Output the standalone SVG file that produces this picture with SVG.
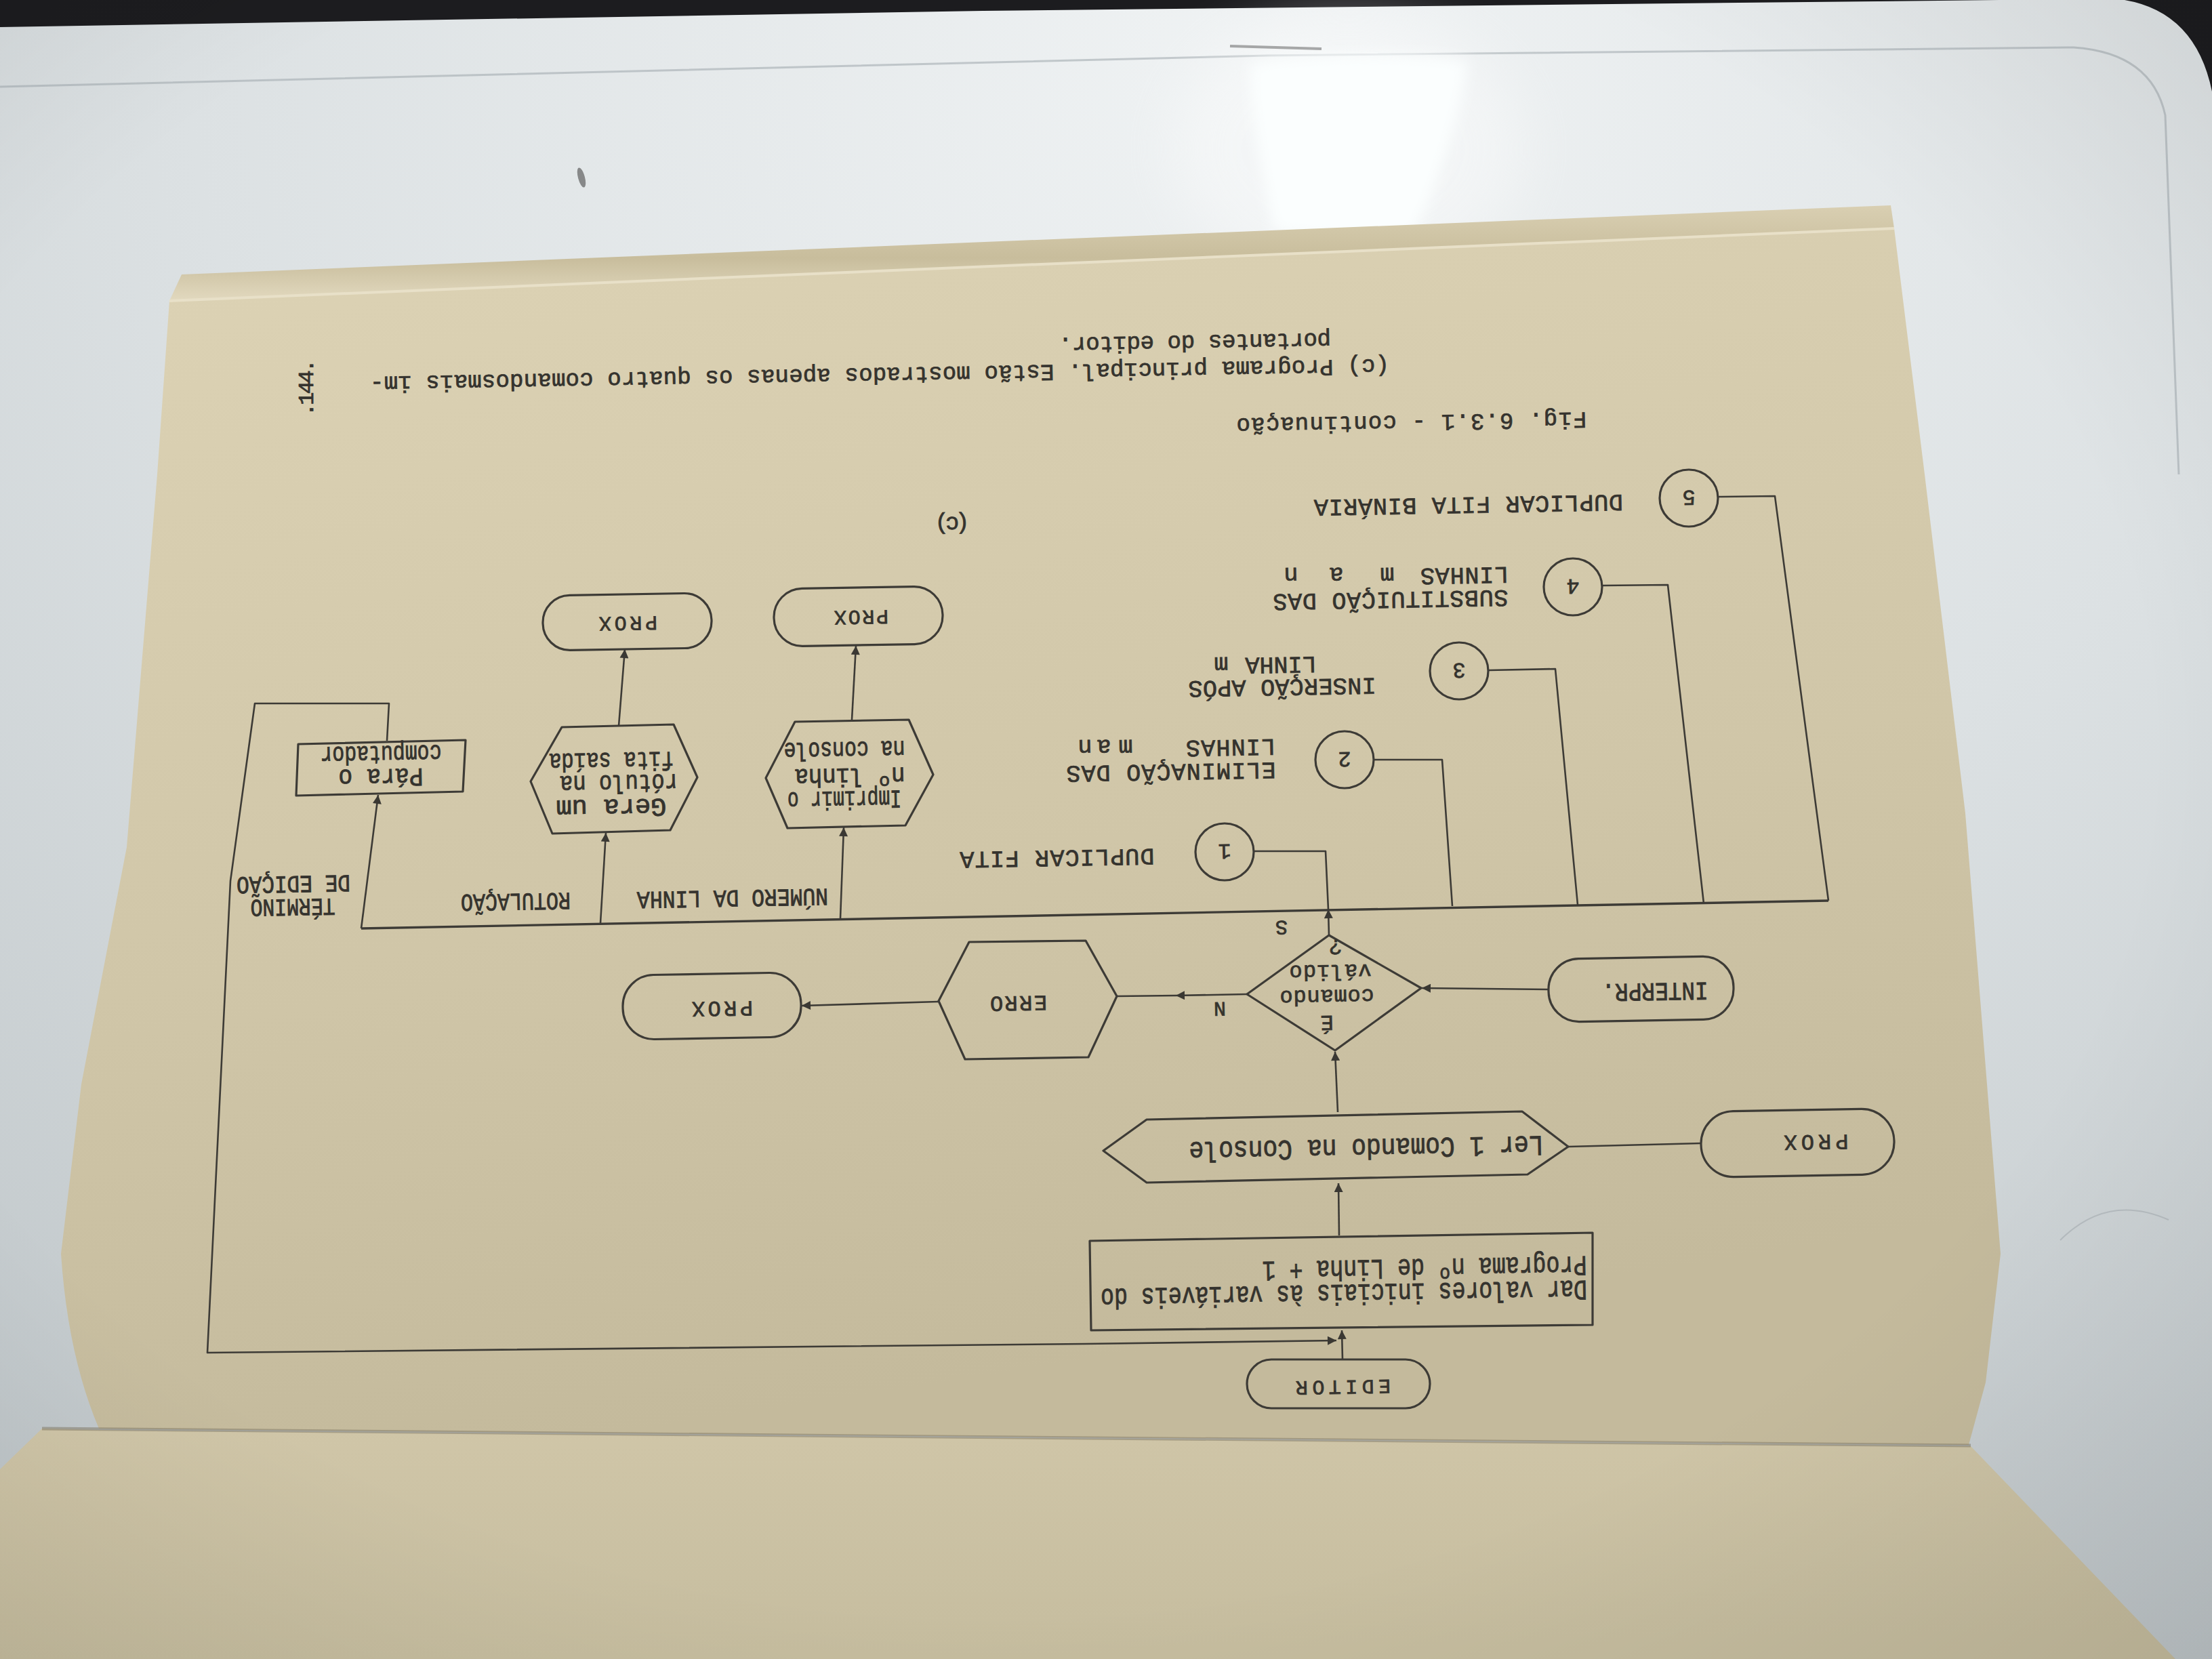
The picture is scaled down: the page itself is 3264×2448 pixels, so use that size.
<svg xmlns="http://www.w3.org/2000/svg" width="3264" height="2448" viewBox="0 0 3264 2448">
<defs>
  <radialGradient id="surf" cx="0.58" cy="0.04" r="1.1">
    <stop offset="0" stop-color="#f0f3f4"/>
    <stop offset="0.45" stop-color="#dce1e3"/>
    <stop offset="1" stop-color="#bcc3c6"/>
  </radialGradient>
  <linearGradient id="pageGrad" x1="0" y1="0" x2="0.25" y2="1">
    <stop offset="0" stop-color="#ddd3b5"/>
    <stop offset="0.6" stop-color="#d0c6a8"/>
    <stop offset="1" stop-color="#c4ba9c"/>
  </linearGradient>
  <linearGradient id="lowerGrad" x1="0" y1="0" x2="0.15" y2="1">
    <stop offset="0" stop-color="#d0c6a8"/>
    <stop offset="1" stop-color="#c6bd9f"/>
  </linearGradient>
  <linearGradient id="stackGrad" x1="0" y1="0" x2="0" y2="1">
    <stop offset="0" stop-color="#d9cfb2"/>
    <stop offset="0.55" stop-color="#c8bd9c"/>
    <stop offset="1" stop-color="#e2d9bf"/>
  </linearGradient>
  <radialGradient id="vig" cx="0.45" cy="0.45" r="0.8">
    <stop offset="0.65" stop-color="#000" stop-opacity="0"/>
    <stop offset="1" stop-color="#000" stop-opacity="0.1"/>
  </radialGradient>
  <filter id="glare" x="-50%" y="-50%" width="200%" height="200%">
    <feGaussianBlur stdDeviation="10"/>
  </filter>
  <filter id="glow" x="-50%" y="-50%" width="200%" height="200%">
    <feGaussianBlur stdDeviation="40"/>
  </filter>
  <marker id="arr" viewBox="0 0 10 10" refX="10" refY="5" markerWidth="17" markerHeight="13" markerUnits="userSpaceOnUse" orient="auto">
    <path d="M0,0 L10,5 L0,10 z" fill="#3a3833"/>
  </marker>
</defs>
<style>
  .ln{fill:none;stroke:#3d3b36;stroke-width:2.6;stroke-linejoin:round}
  .sh{fill:none;stroke:#3d3b36;stroke-width:3.2;stroke-linejoin:round}
  .t{font-family:"Liberation Mono","Courier New",monospace;fill:#35332e;stroke:#35332e;stroke-width:0.8;text-anchor:middle}
  .c{font-family:"Liberation Mono","Courier New",monospace;fill:#35332e;stroke:#35332e;stroke-width:0.9;text-anchor:middle}
</style>

<!-- table surface and surroundings -->
<g id="scene">
  <rect x="0" y="0" width="3264" height="2448" fill="url(#surf)"/>
  <path d="M0,0 H3264 V135 Q3240,18 3135,0 Z" fill="#1c1c1f"/>
  <path d="M0,0 L0,40 L1450,16 L2950,0 Z" fill="#1c1c1f"/>
  <path d="M0,128 L1870,82 L3060,70 Q3175,78 3195,170 L3215,700" fill="none" stroke="#a4acb0" stroke-width="3" opacity="0.6"/>
  <ellipse cx="1990" cy="220" rx="260" ry="200" fill="#ffffff" opacity="0.35" filter="url(#glow)"/>
  <path d="M1845,95 C1900,80 2110,75 2165,92 C2150,200 2110,300 2085,345 C2020,352 1930,350 1880,340 C1860,250 1845,160 1845,95 Z" fill="#fbfefe" filter="url(#glare)"/>
  <ellipse cx="858" cy="262" rx="5" ry="15" fill="#4a4a4a" opacity="0.6" transform="rotate(-15 858 262)"/>
  <path d="M1815,68 L1950,72" stroke="#5a5a5a" stroke-width="4" opacity="0.5"/>
  <path d="M3040,1830 Q3110,1760 3200,1800" fill="none" stroke="#939b9f" stroke-width="2" opacity="0.4"/>
</g>

<!-- book pages -->
<g id="book">
  <path d="M0,2168 L62,2108 L146,2110 L1500,2122 L2908,2134 L3210,2448 L0,2448 Z" fill="url(#lowerGrad)"/>
  <path d="M250,444 L2795,337 L2840,700 L2900,1200 L2952,1850 L2930,2040 L2905,2132 L1500,2120 L146,2108 Q100,2000 90,1850 L120,1600 L187,1250 L232,700 Z" fill="url(#pageGrad)"/>
  <path d="M268,405 L2790,303 L2795,337 L250,444 Z" fill="url(#stackGrad)"/>
  <path d="M250,444 L2795,337" stroke="#e8e0c8" stroke-width="4" fill="none"/>
  <path d="M62,2108 L1500,2121 L2908,2133" stroke="#7d7562" stroke-width="5" fill="none" opacity="0.5"/>
</g>

<!-- connectors -->
<g id="connectors">
  <line class="ln" x1="1981" y1="2006" x2="1980" y2="1963" marker-end="url(#arr)"/>
  <polyline class="ln" points="571,1093 574,1038 376,1038 340,1300 306,1996 1600,1983 1972,1978" marker-end="url(#arr)"/>
  <line class="ln" x1="1976" y1="1823" x2="1975" y2="1746" marker-end="url(#arr)"/>
  <line class="ln" x1="2510" y1="1687" x2="2314" y2="1692"/>
  <line class="ln" x1="1974" y1="1641" x2="1970" y2="1552" marker-end="url(#arr)"/>
  <line class="ln" x1="2285" y1="1460" x2="2098" y2="1458" marker-end="url(#arr)"/>
  <polyline class="ln" points="1840,1467 1735,1469 1648,1470" marker-mid="url(#arr)"/>
  <line class="ln" x1="1385" y1="1478" x2="1183" y2="1484" marker-end="url(#arr)"/>
  <line class="ln" x1="1961" y1="1380" x2="1960" y2="1342" marker-end="url(#arr)"/>
  <line class="ln" x1="533" y1="1370" x2="2698" y2="1329" style="stroke-width:3.4"/>
  <polyline class="ln" points="1851,1256 1956,1256 1960,1342"/>
  <polyline class="ln" points="2028,1121 2128,1121 2143,1337"/>
  <polyline class="ln" points="2197,989 2295,987 2328,1335"/>
  <polyline class="ln" points="2365,864 2461,863 2514,1333"/>
  <polyline class="ln" points="2536,733 2619,732 2698,1329"/>
  <line class="ln" x1="1240" y1="1355" x2="1245" y2="1221" marker-end="url(#arr)"/>
  <line class="ln" x1="1257" y1="1062" x2="1263" y2="953" marker-end="url(#arr)"/>
  <line class="ln" x1="886" y1="1362" x2="894" y2="1229" marker-end="url(#arr)"/>
  <line class="ln" x1="913" y1="1071" x2="922" y2="958" marker-end="url(#arr)"/>
  <line class="ln" x1="533" y1="1370" x2="558" y2="1173" marker-end="url(#arr)"/>
</g>

<!-- flowchart nodes (printed upside down on the page) -->
<g id="editor">
  <rect class="sh" x="1840" y="2006" width="270" height="72" rx="36"/>
  <text class="t" x="1982" y="2059" font-size="30" textLength="140" transform="rotate(179 1982 2048)">EDITOR</text>
</g>
<g id="init-box">
  <polygon class="sh" points="1608,1831 2350,1819 2350,1955 1610,1963"/>
  <text class="c" x="1983" y="1924" font-size="42" textLength="718" lengthAdjust="spacingAndGlyphs" transform="rotate(179 1983 1910)">Dar valores iniciais às variáveis do</text>
  <text class="c" x="2102" y="1886" font-size="42" textLength="479" lengthAdjust="spacingAndGlyphs" transform="rotate(179 2102 1872)">Programa nº de Linha + 1</text>
</g>
<g id="read-cmd">
  <polygon class="sh" points="1628,1698 1692,1652 2246,1640 2314,1692 2254,1733 1692,1745"/>
  <text class="c" x="2016" y="1709" font-size="42" textLength="523" lengthAdjust="spacingAndGlyphs" transform="rotate(179 2016 1695)">Ler 1 Comando  na  Console</text>
</g>
<g id="prox-read">
  <rect class="sh" x="2510" y="1638" width="285" height="97" rx="48" transform="rotate(-1 2652 1686)"/>
  <text class="t" x="2680" y="1699" font-size="32" textLength="95" transform="rotate(179 2680 1687)">PROX</text>
</g>
<g id="valid-cmd">
  <polygon class="sh" points="1961,1380 2097,1458 1970,1550 1840,1467"/>
  <text class="t" x="1958" y="1521" font-size="32" transform="rotate(179 1958 1510)">É</text>
  <text class="t" x="1958" y="1479" font-size="32" textLength="139" transform="rotate(179 1958 1470)">comando</text>
  <text class="t" x="1963" y="1442" font-size="32" textLength="121" transform="rotate(179 1963 1433)">válido</text>
  <text class="t" x="1970" y="1409" font-size="32" transform="rotate(179 1970 1398)">?</text>
  <text class="t" x="1800" y="1501" font-size="30" transform="rotate(179 1800 1490)">N</text>
  <text class="t" x="1891" y="1381" font-size="30" transform="rotate(179 1891 1370)">S</text>
</g>
<g id="interpr">
  <rect class="sh" x="2285" y="1413" width="273" height="93" rx="45" transform="rotate(-1 2421 1460)"/>
  <text class="c" x="2442" y="1477" font-size="38" textLength="157" lengthAdjust="spacingAndGlyphs" transform="rotate(179 2442 1464)">INTERPR.</text>
</g>
<g id="erro">
  <polygon class="sh" points="1385,1477 1430,1390 1602,1388 1648,1470 1606,1560 1424,1563"/>
  <text class="t" x="1503" y="1494" font-size="32" textLength="84" transform="rotate(179 1503 1482)">ERRO</text>
</g>
<g id="prox-erro">
  <rect class="sh" x="919" y="1437" width="263" height="95" rx="46" transform="rotate(-1 1050 1484)"/>
  <text class="t" x="1066" y="1502" font-size="32" textLength="90" transform="rotate(179 1066 1490)">PROX</text>
</g>
<g id="cmd1">
  <ellipse class="sh" cx="1807" cy="1257" rx="43" ry="42"/>
  <text class="t" x="1807" y="1268" font-size="32" transform="rotate(179 1807 1257)">1</text>
  <text class="t" x="1560" y="1281" font-size="35" textLength="287" transform="rotate(179 1560 1268)">DUPLICAR FITA</text>
</g>
<g id="cmd2">
  <ellipse class="sh" cx="1984" cy="1121" rx="43" ry="42"/>
  <text class="t" x="1984" y="1132" font-size="32" transform="rotate(179 1984 1121)">2</text>
  <text class="t" x="1728" y="1154" font-size="35" textLength="309" transform="rotate(179 1728 1141)">ELIMINAÇÃO DAS</text>
  <text class="t" x="1816" y="1118" font-size="35" textLength="132" transform="rotate(179 1816 1105)">LINHAS</text>
  <text class="t" x="1661" y="1118" font-size="35" transform="rotate(179 1661 1105)">m</text>
  <text class="t" x="1629" y="1118" font-size="35" transform="rotate(179 1629 1105)">a</text>
  <text class="t" x="1601" y="1118" font-size="35" transform="rotate(179 1601 1105)">n</text>
</g>
<g id="cmd3">
  <ellipse class="sh" cx="2153" cy="990" rx="43" ry="42"/>
  <text class="t" x="2153" y="1001" font-size="32" transform="rotate(179 2153 990)">3</text>
  <text class="t" x="1892" y="1029" font-size="35" textLength="277" transform="rotate(179 1892 1016)">INSERÇÃO APÓS</text>
  <text class="t" x="1890" y="996" font-size="35" textLength="105" transform="rotate(179 1890 983)">LINHA</text>
  <text class="t" x="1802" y="996" font-size="35" transform="rotate(179 1802 983)">m</text>
</g>
<g id="cmd4">
  <ellipse class="sh" cx="2321" cy="866" rx="43" ry="42"/>
  <text class="t" x="2321" y="877" font-size="32" transform="rotate(179 2321 866)">4</text>
  <text class="t" x="2052" y="900" font-size="35" textLength="347" transform="rotate(179 2052 887)">SUBSTITUIÇÃO DAS</text>
  <text class="t" x="2161" y="864" font-size="35" textLength="130" transform="rotate(179 2161 851)">LINHAS</text>
  <text class="t" x="2047" y="864" font-size="35" transform="rotate(179 2047 851)">m</text>
  <text class="t" x="1972" y="864" font-size="35" transform="rotate(179 1972 851)">a</text>
  <text class="t" x="1905" y="864" font-size="35" transform="rotate(179 1905 851)">n</text>
</g>
<g id="cmd5">
  <ellipse class="sh" cx="2492" cy="735" rx="43" ry="42"/>
  <text class="t" x="2492" y="746" font-size="32" transform="rotate(179 2492 735)">5</text>
  <text class="t" x="2167" y="760" font-size="35" textLength="456" transform="rotate(179 2167 747)">DUPLICAR FITA BINÁRIA</text>
</g>
<g id="print-line">
  <polygon class="sh" points="1130,1148 1173,1065 1341,1062 1377,1143 1336,1218 1162,1222"/>
  <text class="c" x="1246" y="1194" font-size="38" textLength="168" lengthAdjust="spacingAndGlyphs" transform="rotate(179 1246 1181)">Imprimir o</text>
  <text class="c" x="1254" y="1160" font-size="38" textLength="163" lengthAdjust="spacingAndGlyphs" transform="rotate(179 1254 1147)">nº  linha</text>
  <text class="c" x="1246" y="1121" font-size="38" textLength="179" lengthAdjust="spacingAndGlyphs" transform="rotate(179 1246 1108)">na console</text>
  <text class="c" x="1081" y="1340" font-size="36" textLength="282" lengthAdjust="spacingAndGlyphs" transform="rotate(179 1081 1327)">NÚMERO DA LINHA</text>
</g>
<g id="prox-print">
  <rect class="sh" x="1142" y="867" width="249" height="85" rx="42" transform="rotate(-1 1266 910)"/>
  <text class="t" x="1271" y="923" font-size="30" textLength="80" transform="rotate(179 1271 912)">PROX</text>
</g>
<g id="label-gen">
  <polygon class="sh" points="783,1153 829,1073 994,1069 1029,1147 989,1225 815,1230"/>
  <text class="c" x="902" y="1206" font-size="38" textLength="163" lengthAdjust="spacingAndGlyphs" transform="rotate(179 902 1193)">Gera    um</text>
  <text class="c" x="913" y="1170" font-size="38" textLength="174" lengthAdjust="spacingAndGlyphs" transform="rotate(179 913 1157)">rótulo na</text>
  <text class="c" x="902" y="1137" font-size="38" textLength="184" lengthAdjust="spacingAndGlyphs" transform="rotate(179 902 1124)">fita saída</text>
  <text class="c" x="761" y="1345" font-size="36" textLength="162" lengthAdjust="spacingAndGlyphs" transform="rotate(179 761 1332)">ROTULAÇÃO</text>
</g>
<g id="prox-label">
  <rect class="sh" x="801" y="877" width="249" height="81" rx="40" transform="rotate(-1 925 917)"/>
  <text class="t" x="927" y="932" font-size="30" textLength="86" transform="rotate(179 927 921)">PROX</text>
</g>
<g id="stop">
  <polygon class="sh" points="440,1098 687,1092 683,1168 437,1174"/>
  <text class="c" x="562" y="1161" font-size="38" textLength="125" lengthAdjust="spacingAndGlyphs" transform="rotate(179 562 1148)">Pára o</text>
  <text class="c" x="562" y="1127" font-size="38" textLength="179" lengthAdjust="spacingAndGlyphs" transform="rotate(179 562 1114)">computador</text>
  <text class="c" x="432" y="1353" font-size="36" textLength="125" lengthAdjust="spacingAndGlyphs" transform="rotate(179 432 1340)">TÉRMINO</text>
  <text class="c" x="433" y="1319" font-size="36" textLength="168" lengthAdjust="spacingAndGlyphs" transform="rotate(179 433 1306)">DE EDIÇÃO</text>
</g>

<!-- caption block -->
<g id="caption">
  <text class="t" x="1405" y="787" font-size="34" textLength="51" transform="rotate(179 1405 775)">(c)</text>
  <text class="t" x="2083" y="637" font-size="34" textLength="517" transform="rotate(179 2083 625)">Fig. 6.3.1 - continuação</text>
  <text class="t" x="1298" y="567" font-size="34" textLength="1504" transform="rotate(179 1298 555)">(c) Programa principal. Estão mostrados apenas os quatro comandosmais im-</text>
  <text class="t" x="1763" y="519" font-size="34" textLength="402" transform="rotate(179 1763 507)">portantes do editor.</text>
  <text class="t" x="451" y="583" font-size="32" textLength="84" transform="rotate(-90 451 572)">.144.</text>
</g>

<rect x="0" y="0" width="3264" height="2448" fill="url(#vig)"/>
</svg>
